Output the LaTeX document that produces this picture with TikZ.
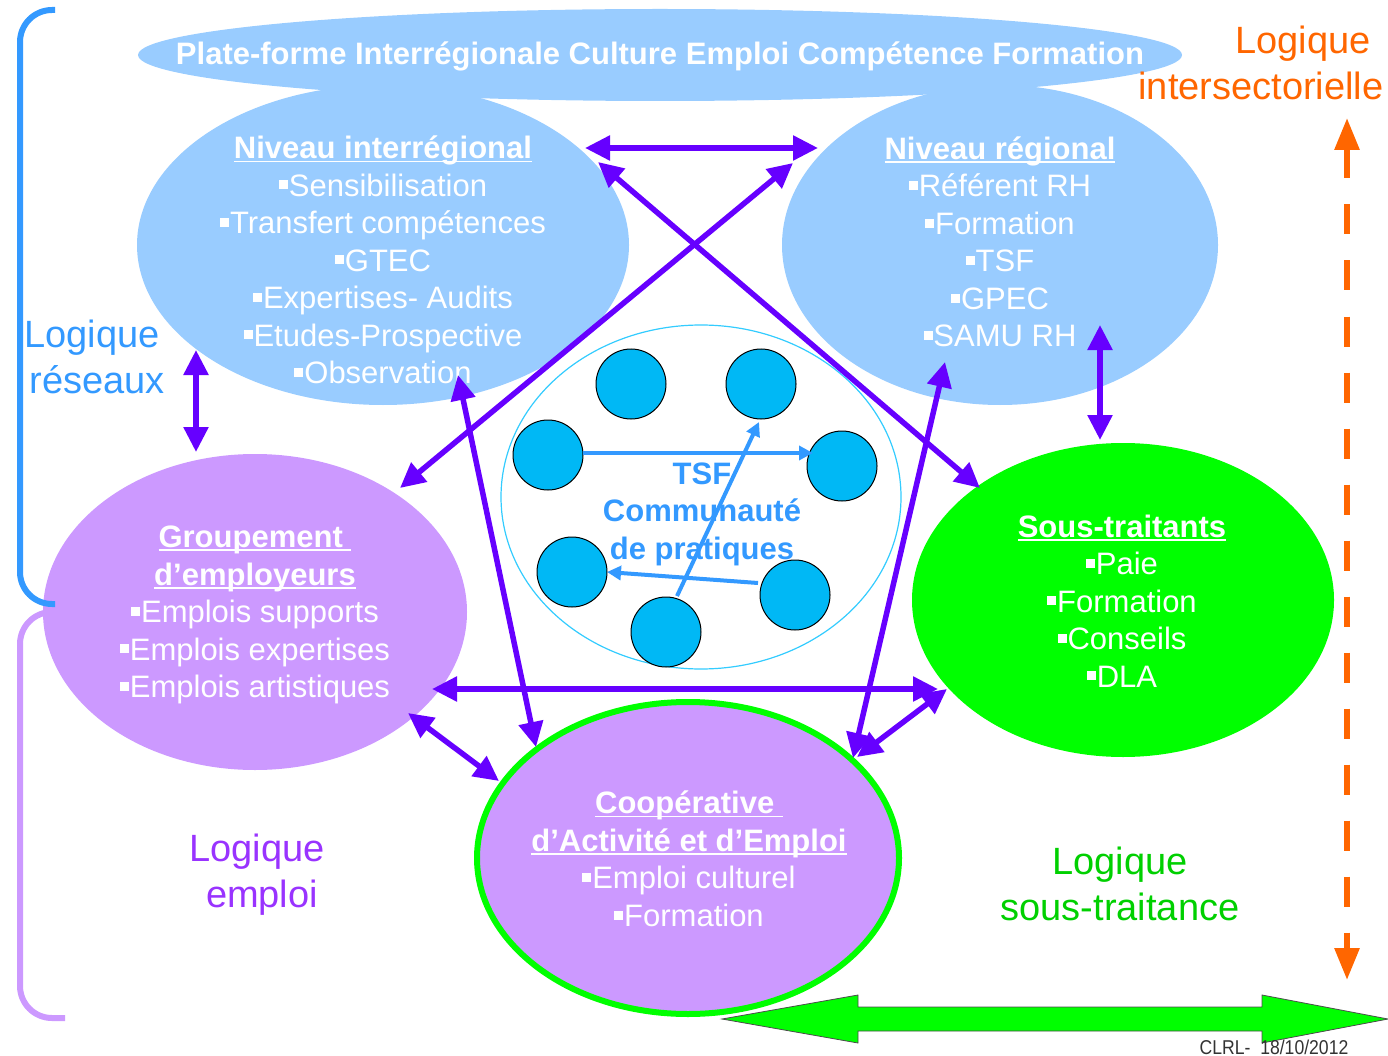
\documentclass[tikz,border=0pt]{standalone}
\usepackage{fontspec}
\setmainfont{Liberation Sans}
\usepackage{graphicx}
\usetikzlibrary{arrows.meta,shapes.geometric,calc}

\definecolor{cbSky}{HTML}{99CCFF}
\definecolor{cbLilac}{HTML}{CC99FF}
\definecolor{cbGreen}{HTML}{00FF00}
\definecolor{cbPurple}{HTML}{6600FF}
\definecolor{cbBlue}{HTML}{3399FF}
\definecolor{cbCyan}{HTML}{00B8F5}
\definecolor{cbRing}{HTML}{33CCFF}
\definecolor{cbOrange}{HTML}{FF6600}
\definecolor{cbMauve}{HTML}{9933FF}
\definecolor{cbLeaf}{HTML}{00D000}

\newcommand{\corps}{\fontsize{31}{37.5}\selectfont}
\newcommand{\puce}{\raisebox{0.22em}{\rule{0.29em}{0.29em}}\kern0.03em}
\newcommand{\souligne}[1]{\setbox0\hbox{#1}\rlap{\rule[-0.11em]{\wd0}{0.05em}}\box0}

\begin{document}
\begin{tikzpicture}[
        x=1pt, y=-1pt,
        zone/.style={ellipse, inner sep=0pt},
        txt/.style={text=white, align=center, font=\corps, inner sep=0pt},
        logi/.style={align=center, font=\fontsize{38}{46}\selectfont, inner sep=0pt},
        dot/.style={circle, draw=black, line width=1pt, fill=cbCyan, minimum size=70pt, inner sep=0pt},
        arr/.style={{Triangle[length=25pt,width=24pt]}-{Triangle[length=25pt,width=24pt]},
                    line width=5.5pt, draw=cbPurple},
        barr/.style={-{Triangle[length=14pt,width=14pt]}, line width=4pt, draw=cbBlue},
        brace/.style={line width=6pt, rounded corners=32pt}
      ]
        \useasboundingbox (0,0) rectangle (1388,1056);

        % ellipses
        \node[zone, fill=cbSky, minimum width=1044pt, minimum height=92pt] (plate) at (660,55) {};
        \node[zone, fill=cbSky, minimum width=492pt, minimum height=320pt] (inter) at (383,245) {};
        \node[zone, fill=cbSky, minimum width=436pt, minimum height=320pt] (regional) at (1000,245) {};
        \node[zone, fill=cbLilac, minimum width=424pt, minimum height=316pt] (groupement) at (255,612) {};
        \node[zone, fill=cbGreen, minimum width=422pt, minimum height=314pt] (soustrait) at (1123,600) {};
        \node[zone, fill=cbLilac, draw=cbGreen, line width=6pt,
              minimum width=422pt, minimum height=312pt] (cae) at (688,858) {};

        % texts
        \node[txt, font=\bfseries\fontsize{31}{36}\selectfont] (plate-t) at (660,56)
          {Plate-forme Interrégionale Culture Emploi Compétence Formation};
        \node[txt] (inter-t) at (383,260) {\textbf{\souligne{Niveau interrégional}}\\
          \puce Sensibilisation\\\puce Transfert compétences\\\puce GTEC\\
          \puce Expertises- Audits\\\puce Etudes-Prospective\\\puce Observation};
        \node[txt] (regional-t) at (1000,242) {\textbf{\souligne{Niveau régional}}\\
          \puce Référent RH\\\puce Formation\\\puce TSF\\\puce GPEC\\\puce SAMU RH};
        \node[txt] (groupement-t) at (255,615) {\textbf{\souligne{Groupement\ }}\\
          \textbf{\souligne{d’employeurs}}\\\puce Emplois supports\\
          \puce Emplois expertises\\\puce Emplois artistiques};
        \node[txt] (soustrait-t) at (1122,601) {\textbf{\souligne{Sous-traitants}}\\
          \puce Paie\\\puce Formation\\\puce Conseils\\\puce DLA};
        \node[txt] (cae-t) at (689,859) {\textbf{\souligne{Coopérative\ }}\\
          \textbf{\souligne{d’Activité et d’Emploi}}\\\puce Emploi culturel\\\puce Formation};

        % community of practice
        \node[zone, draw=cbRing, line width=1.2pt, fill=white,
              minimum width=400pt, minimum height=344pt] (tsf) at (701,497) {};
        \node[dot] (c1) at (631,384) {};
        \node[dot] (c2) at (761,384) {};
        \node[dot] (c3) at (548,455) {};
        \node[dot] (c4) at (842,466) {};
        \node[dot] (c5) at (572,572) {};
        \node[dot] (c6) at (795,595) {};
        \node[dot] (c7) at (666,632) {};
        \node[txt, text=cbBlue, font=\bfseries\corps] (tsf-t) at (702,514)
          {TSF\\Communauté\\de pratiques};
        \draw[barr] ($(c3)+(35,-2)$) -- ($(c4)+(-29,-13)$);
        \draw[barr] ($(c7)+(11,-36)$) -- ($(c2)+(-2,38)$);
        \draw[barr] ($(c6)+(-37,-12)$) -- ($(c5)+(35,0)$);

        % links
        \draw[arr] ($(inter)+(202,-97)$) -- ($(regional)+(-182,-97)$);
        \draw[arr] ($(inter)+(215,-83)$) -- ($(soustrait)+(-143,-112)$);
        \draw[arr] ($(regional)+(-207,-82)$) -- ($(groupement)+(145,-124)$);
        \draw[arr] ($(inter)+(-187,105)$) -- ($(groupement)+(-59,-160)$);
        \draw[arr] ($(regional)+(100,80)$) -- ($(soustrait)+(-23,-160)$);
        \draw[arr] ($(inter)+(75,130)$) -- ($(cae)+(-152,-111)$);
        \draw[arr] ($(regional)+(-55,117)$) -- ($(cae)+(165,-100)$);
        \draw[arr] ($(groupement)+(177,77)$) -- ($(soustrait)+(-185,89)$);
        \draw[arr] ($(groupement)+(153,101)$) -- ($(cae)+(-189,-77)$);
        \draw[arr] ($(cae)+(169,-101)$) -- ($(soustrait)+(-176,89)$);

        % braces and logics
        \draw[brace, cbBlue] (55,10) -- (20,10) -- (20,604) -- (55,604);
        \draw[brace, cbLilac] (65,612) -- (20,612) -- (20,1018) -- (65,1018);
        \node[logi, text=cbBlue] (reseaux) at (92,357) {Logique\\\hspace*{10pt}réseaux};
        \node[logi, text=cbMauve] (emploi) at (257,875) {Logique\\\hspace*{10pt}emploi};
        \node[logi, text=cbLeaf] (soustraitance) at (1120,884) {Logique\\sous-traitance};
        \node[logi, text=cbOrange] (intersect) at (1261,63) {\hspace*{84pt}Logique\\intersectorielle};

        \coordinate (haut) at (1347,118);
        \coordinate (bas) at (1347,980);
        \draw[{Triangle[length=32pt,width=24pt]}-{Triangle[length=32pt,width=24pt]},
              line width=6pt, cbOrange, dash pattern=on 30pt off 26pt] (haut) -- (bas);

        % bottom double arrow
        \draw[fill=cbGreen, draw=black!70, line width=0.8pt]
          (722,1019) -- (858,995) -- (858,1007) -- (1262,1007) -- (1262,995) -- (1388,1019)
          -- (1262,1043) -- (1262,1031) -- (858,1031) -- (858,1043) -- cycle;
        \node[font=\fontsize{20}{20}\selectfont, text=black!80, inner sep=0pt] (clrl) at (1274,1047)
          {\scalebox{0.88}[1]{CLRL-\ \ 18/10/2012}};
      \end{tikzpicture}
\end{document}
